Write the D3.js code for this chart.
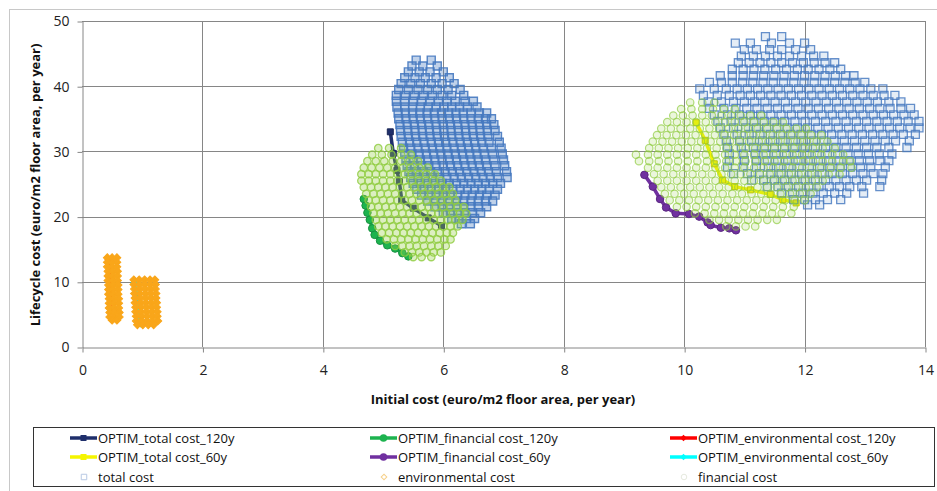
<!DOCTYPE html>
<html lang="en">
<head>
<meta charset="UTF-8" />
<title>Lifecycle cost vs initial cost</title>
<style>
  body { margin: 0; background: #fff; }
  svg { font-family: "Open Sans", sans-serif; }
</style>
</head>
<body>
<svg id="chart" width="937" height="491"></svg>
<script src="https://cdn.jsdelivr.net/npm/d3@7"></script>
<script>
// ---- values ----
const xTicks = [0, 2, 4, 6, 8, 10, 12, 14];
const yTicks = [0, 10, 20, 30, 40, 50];

// optimal fronts [initial cost, lifecycle cost]
const optimTotal120 = [[5.12,33.0],[5.17,29.7],[5.23,27.1],[5.27,25.4],[5.31,22.5],[5.5,21.3],[5.75,19.8],[5.97,18.6]];
const optimFinancial120 = [[4.68,22.7],[4.71,21.7],[4.74,20.6],[4.78,19.5],[4.82,18.2],[4.86,17.2],[4.95,16.3],[5.07,15.6],[5.2,15.1],[5.32,14.4],[5.42,13.9]];
const optimEnv120 = [[0.44,13.4],[0.46,12.6],[0.48,10.5],[0.5,8.0],[0.52,5.5]];
const optimTotal60 = [[10.2,34.4],[10.35,31.7],[10.5,28.1],[10.64,25.6],[10.84,24.6],[11.1,24.1],[11.43,23.4],[11.64,22.6],[11.86,22.1]];
const optimFinancial60 = [[9.34,26.4],[9.48,24.6],[9.6,22.7],[9.7,21.4],[9.86,20.5],[10.08,20.4],[10.25,20.0],[10.39,19.1],[10.44,18.7],[10.61,18.3],[10.75,18.2],[10.86,17.9]];
const optimEnv60 = [[0.87,9.9],[0.92,7.5],[0.95,5.0],[0.97,3.6]];

// scatter clouds, one row per lifecycle-cost level: [y, [x, x, ...]]
const totalCost120 = [
  [44.0, [5.55, 5.8]],
  [43.1, [5.48, 5.66, 5.9]],
  [42.2, [5.42, 5.6, 5.78, 6.0]],
  [41.3, [5.36, 5.53, 5.7, 5.88, 6.1]],
  [40.4, [5.3, 5.46, 5.62, 5.8, 5.98, 6.18]],
  [39.5, [5.26, 5.42, 5.58, 5.74, 5.9, 6.08, 6.28]],
  [38.6, [5.22, 5.37, 5.52, 5.67, 5.82, 5.98, 6.14, 6.34]],
  [37.7, [5.22, 5.36, 5.5, 5.64, 5.78, 5.92, 6.06, 6.2, 6.36, 6.5]],
  [36.8, [5.23, 5.36, 5.49, 5.62, 5.75, 5.88, 6.01, 6.14, 6.27, 6.4, 6.56]],
  [35.9, [5.25, 5.37, 5.49, 5.61, 5.73, 5.85, 5.97, 6.09, 6.21, 6.33, 6.46, 6.6, 6.72]],
  [35.0, [5.26, 5.38, 5.5, 5.62, 5.74, 5.86, 5.98, 6.1, 6.22, 6.34, 6.46, 6.58, 6.7, 6.8]],
  [34.1, [5.28, 5.4, 5.52, 5.64, 5.76, 5.88, 6.0, 6.12, 6.24, 6.36, 6.48, 6.6, 6.72, 6.84]],
  [33.2, [5.29, 5.41, 5.53, 5.65, 5.77, 5.89, 6.01, 6.13, 6.25, 6.37, 6.49, 6.61, 6.73, 6.86]],
  [32.3, [5.3, 5.42, 5.54, 5.66, 5.78, 5.9, 6.02, 6.14, 6.26, 6.38, 6.5, 6.62, 6.74, 6.9]],
  [31.4, [5.32, 5.44, 5.56, 5.68, 5.8, 5.92, 6.04, 6.16, 6.28, 6.4, 6.52, 6.64, 6.76, 6.93]],
  [30.5, [5.34, 5.46, 5.58, 5.7, 5.82, 5.94, 6.06, 6.18, 6.3, 6.42, 6.54, 6.66, 6.8, 6.96]],
  [29.6, [5.36, 5.48, 5.6, 5.72, 5.84, 5.96, 6.08, 6.2, 6.32, 6.44, 6.56, 6.68, 6.82, 6.98]],
  [28.7, [5.38, 5.5, 5.62, 5.74, 5.86, 5.98, 6.1, 6.22, 6.34, 6.46, 6.58, 6.7, 6.84, 7.0]],
  [27.8, [5.4, 5.52, 5.64, 5.76, 5.88, 6.0, 6.12, 6.24, 6.36, 6.48, 6.6, 6.72, 6.86, 7.02]],
  [26.9, [5.43, 5.55, 5.67, 5.79, 5.91, 6.03, 6.15, 6.27, 6.39, 6.51, 6.63, 6.75, 6.88, 7.05]],
  [26.0, [5.46, 5.58, 5.7, 5.82, 5.94, 6.06, 6.18, 6.3, 6.42, 6.54, 6.66, 6.78, 6.9, 7.06]],
  [25.1, [5.5, 5.62, 5.74, 5.86, 5.98, 6.1, 6.22, 6.34, 6.46, 6.58, 6.7, 6.82, 6.95]],
  [24.2, [5.56, 5.68, 5.8, 5.92, 6.04, 6.16, 6.28, 6.4, 6.52, 6.64, 6.76, 6.9]],
  [23.3, [5.64, 5.76, 5.88, 6.0, 6.12, 6.24, 6.36, 6.48, 6.6, 6.72, 6.86]],
  [22.4, [5.74, 5.86, 5.98, 6.1, 6.22, 6.34, 6.46, 6.58, 6.7, 6.82]],
  [21.5, [5.86, 5.98, 6.1, 6.22, 6.34, 6.46, 6.58, 6.72]],
  [20.6, [6.0, 6.12, 6.24, 6.36, 6.48, 6.62]],
  [19.7, [6.14, 6.26, 6.38, 6.52]],
  [18.9, [6.3, 6.45]]
];
const totalCost60 = [
  [47.6, [11.35, 11.62]],
  [46.6, [10.85, 11.1, 11.45, 11.75, 12.0]],
  [45.6, [11.0, 11.2, 11.42, 11.62, 11.85, 12.1]],
  [44.6, [10.95, 11.15, 11.35, 11.55, 11.75, 11.95, 12.15, 12.32]],
  [43.6, [10.9, 11.08, 11.26, 11.44, 11.62, 11.8, 11.98, 12.16, 12.34, 12.5]],
  [42.6, [10.8, 10.98, 11.16, 11.34, 11.52, 11.7, 11.88, 12.06, 12.24, 12.42, 12.6]],
  [41.6, [10.6, 10.8, 10.98, 11.15, 11.32, 11.49, 11.66, 11.83, 12.0, 12.17, 12.34, 12.51, 12.68, 12.82]],
  [40.6, [10.42, 10.62, 10.8, 10.97, 11.14, 11.31, 11.48, 11.65, 11.82, 11.99, 12.16, 12.33, 12.5, 12.67, 12.84, 13.0]],
  [39.6, [10.26, 10.5, 10.7, 10.88, 11.05, 11.22, 11.39, 11.56, 11.73, 11.9, 12.07, 12.24, 12.41, 12.58, 12.75, 12.92, 13.1, 13.3]],
  [38.6, [10.32, 10.55, 10.75, 10.93, 11.1, 11.27, 11.44, 11.61, 11.78, 11.95, 12.12, 12.29, 12.46, 12.63, 12.8, 12.97, 13.14, 13.32, 13.5]],
  [37.6, [10.4, 10.62, 10.82, 11.0, 11.17, 11.34, 11.51, 11.68, 11.85, 12.02, 12.19, 12.36, 12.53, 12.7, 12.87, 13.04, 13.21, 13.4, 13.6]],
  [36.6, [10.42, 10.66, 10.86, 11.04, 11.21, 11.38, 11.55, 11.72, 11.89, 12.06, 12.23, 12.4, 12.57, 12.74, 12.91, 13.08, 13.25, 13.42, 13.6, 13.76]],
  [35.6, [10.5, 10.72, 10.92, 11.1, 11.27, 11.44, 11.61, 11.78, 11.95, 12.12, 12.29, 12.46, 12.63, 12.8, 12.97, 13.14, 13.31, 13.48, 13.65, 13.82]],
  [34.6, [10.56, 10.78, 10.98, 11.16, 11.33, 11.5, 11.67, 11.84, 12.01, 12.18, 12.35, 12.52, 12.69, 12.86, 13.03, 13.2, 13.37, 13.54, 13.72, 13.9]],
  [33.6, [10.6, 10.82, 11.02, 11.2, 11.37, 11.54, 11.71, 11.88, 12.05, 12.22, 12.39, 12.56, 12.73, 12.9, 13.07, 13.24, 13.41, 13.58, 13.75, 13.9]],
  [32.6, [10.66, 10.88, 11.08, 11.26, 11.43, 11.6, 11.77, 11.94, 12.11, 12.28, 12.45, 12.62, 12.79, 12.96, 13.13, 13.3, 13.47, 13.64, 13.84]],
  [31.6, [10.7, 10.92, 11.12, 11.3, 11.47, 11.64, 11.81, 11.98, 12.15, 12.32, 12.49, 12.66, 12.83, 13.0, 13.17, 13.34, 13.51, 13.74]],
  [30.6, [10.72, 10.95, 11.15, 11.33, 11.5, 11.67, 11.84, 12.01, 12.18, 12.35, 12.52, 12.69, 12.86, 13.03, 13.2, 13.4, 13.7]],
  [29.6, [10.75, 10.98, 11.18, 11.36, 11.53, 11.7, 11.87, 12.04, 12.21, 12.38, 12.55, 12.72, 12.89, 13.06, 13.24, 13.45]],
  [28.6, [10.75, 11.0, 11.2, 11.38, 11.55, 11.72, 11.89, 12.06, 12.23, 12.4, 12.57, 12.74, 12.91, 13.08, 13.25, 13.4]],
  [27.6, [10.72, 10.98, 11.2, 11.4, 11.57, 11.74, 11.91, 12.08, 12.25, 12.42, 12.59, 12.76, 12.93, 13.1, 13.34]],
  [26.6, [10.82, 11.05, 11.25, 11.44, 11.61, 11.78, 11.95, 12.12, 12.29, 12.46, 12.63, 12.8, 12.97, 13.14, 13.3]],
  [25.6, [11.12, 11.32, 11.5, 11.67, 11.84, 12.01, 12.18, 12.35, 12.52, 12.69, 12.86, 13.03, 13.28]],
  [24.6, [11.38, 11.56, 11.73, 11.9, 12.07, 12.24, 12.41, 12.58, 12.75, 12.95, 13.25]],
  [23.6, [11.62, 11.8, 11.97, 12.14, 12.31, 12.5, 12.7, 12.98]],
  [22.6, [11.82, 12.0, 12.18, 12.38, 12.6]],
  [21.8, [12.05, 12.25]]
];
const financialCost120 = [
  [30.5, [4.92, 5.1, 5.3]],
  [29.5, [4.82, 4.98, 5.14, 5.3, 5.46]],
  [28.5, [4.74, 4.88, 5.02, 5.16, 5.3, 5.44, 5.58]],
  [27.5, [4.68, 4.81, 4.94, 5.07, 5.2, 5.33, 5.46, 5.6, 5.74]],
  [26.5, [4.64, 4.76, 4.88, 5.0, 5.12, 5.24, 5.36, 5.48, 5.6, 5.72, 5.86]],
  [25.5, [4.64, 4.76, 4.88, 5.0, 5.12, 5.24, 5.36, 5.48, 5.6, 5.72, 5.84, 5.96]],
  [24.5, [4.68, 4.8, 4.92, 5.04, 5.16, 5.28, 5.4, 5.52, 5.64, 5.76, 5.88, 6.0, 6.1]],
  [23.5, [4.72, 4.84, 4.96, 5.08, 5.2, 5.32, 5.44, 5.56, 5.68, 5.8, 5.92, 6.04, 6.16]],
  [22.5, [4.76, 4.88, 5.0, 5.12, 5.24, 5.36, 5.48, 5.6, 5.72, 5.84, 5.96, 6.08, 6.2]],
  [21.5, [4.8, 4.92, 5.04, 5.16, 5.28, 5.4, 5.52, 5.64, 5.76, 5.88, 6.0, 6.12, 6.24, 6.34]],
  [20.5, [4.84, 4.96, 5.08, 5.2, 5.32, 5.44, 5.56, 5.68, 5.8, 5.92, 6.04, 6.16, 6.28, 6.38]],
  [19.5, [4.88, 5.0, 5.12, 5.24, 5.36, 5.48, 5.6, 5.72, 5.84, 5.96, 6.08, 6.2, 6.32]],
  [18.5, [4.92, 5.04, 5.16, 5.28, 5.4, 5.52, 5.64, 5.76, 5.88, 6.0, 6.12, 6.24]],
  [17.5, [4.98, 5.1, 5.22, 5.34, 5.46, 5.58, 5.7, 5.82, 5.94, 6.06, 6.16]],
  [16.5, [5.06, 5.18, 5.3, 5.42, 5.54, 5.66, 5.78, 5.9, 6.02, 6.12]],
  [15.5, [5.2, 5.32, 5.44, 5.56, 5.68, 5.8, 5.92, 6.04]],
  [14.5, [5.36, 5.48, 5.6, 5.72, 5.84, 5.96]],
  [13.8, [5.5, 5.64, 5.8]]
];
const financialCost60 = [
  [37.5, [10.1, 10.3, 10.5]],
  [36.5, [9.95, 10.12, 10.3, 10.48, 10.66, 10.84]],
  [35.5, [9.82, 9.98, 10.14, 10.3, 10.46, 10.62, 10.78, 10.94, 11.1, 11.28]],
  [34.5, [9.72, 9.88, 10.04, 10.2, 10.36, 10.52, 10.68, 10.84, 11.0, 11.16, 11.32, 11.48, 11.64]],
  [33.5, [9.62, 9.78, 9.94, 10.1, 10.26, 10.42, 10.58, 10.74, 10.9, 11.06, 11.22, 11.38, 11.54, 11.7, 11.86, 12.02]],
  [32.5, [9.55, 9.71, 9.87, 10.03, 10.19, 10.35, 10.51, 10.67, 10.83, 10.99, 11.15, 11.31, 11.47, 11.63, 11.79, 11.95, 12.11, 12.28]],
  [31.5, [9.48, 9.64, 9.8, 9.96, 10.12, 10.28, 10.44, 10.6, 10.76, 10.92, 11.08, 11.24, 11.4, 11.56, 11.72, 11.88, 12.04, 12.2, 12.38]],
  [30.5, [9.42, 9.58, 9.74, 9.9, 10.06, 10.22, 10.38, 10.54, 10.7, 10.86, 11.02, 11.18, 11.34, 11.5, 11.66, 11.82, 11.98, 12.14, 12.3, 12.5]],
  [29.5, [9.2, 9.4, 9.56, 9.72, 9.88, 10.04, 10.2, 10.36, 10.52, 10.68, 10.84, 11.0, 11.16, 11.32, 11.48, 11.64, 11.8, 11.96, 12.12, 12.28, 12.46, 12.64]],
  [28.5, [9.25, 9.42, 9.58, 9.74, 9.9, 10.06, 10.22, 10.38, 10.54, 10.7, 10.86, 11.02, 11.18, 11.34, 11.5, 11.66, 11.82, 11.98, 12.14, 12.3, 12.46, 12.64, 12.76]],
  [27.5, [9.4, 9.56, 9.72, 9.88, 10.04, 10.2, 10.36, 10.52, 10.68, 10.84, 11.0, 11.16, 11.32, 11.48, 11.64, 11.8, 11.96, 12.12, 12.28, 12.44, 12.6, 12.78]],
  [26.5, [9.5, 9.66, 9.82, 9.98, 10.14, 10.3, 10.46, 10.62, 10.78, 10.94, 11.1, 11.26, 11.42, 11.58, 11.74, 11.9, 12.06, 12.22, 12.4, 12.58]],
  [25.5, [9.56, 9.72, 9.88, 10.04, 10.2, 10.36, 10.52, 10.68, 10.84, 11.0, 11.16, 11.32, 11.48, 11.64, 11.8, 11.96, 12.12, 12.3]],
  [24.5, [9.62, 9.78, 9.94, 10.1, 10.26, 10.42, 10.58, 10.74, 10.9, 11.06, 11.22, 11.38, 11.54, 11.7, 11.86, 12.02, 12.2]],
  [23.5, [9.68, 9.84, 10.0, 10.16, 10.32, 10.48, 10.64, 10.8, 10.96, 11.12, 11.28, 11.44, 11.6, 11.76, 11.92, 12.1]],
  [22.5, [9.76, 9.92, 10.08, 10.24, 10.4, 10.56, 10.72, 10.88, 11.04, 11.2, 11.36, 11.52, 11.68, 11.84, 12.0]],
  [21.5, [9.88, 10.04, 10.2, 10.36, 10.52, 10.68, 10.84, 11.0, 11.16, 11.32, 11.48, 11.64, 11.82]],
  [20.5, [10.18, 10.34, 10.5, 10.66, 10.82, 10.98, 11.14, 11.3, 11.46, 11.62, 11.78]],
  [19.5, [10.42, 10.58, 10.74, 10.9, 11.06, 11.22, 11.38, 11.54]],
  [18.5, [10.7, 10.86, 11.02, 11.18]]
];
const envCost120 = [
  [13.7, [0.42, 0.5, 0.58]],
  [13.0, [0.42, 0.5, 0.58]],
  [12.3, [0.42, 0.5, 0.58]],
  [11.6, [0.43, 0.51, 0.59]],
  [10.9, [0.43, 0.51, 0.59]],
  [10.2, [0.43, 0.51, 0.59]],
  [9.5, [0.44, 0.52, 0.6]],
  [8.8, [0.44, 0.52, 0.6]],
  [8.1, [0.44, 0.52, 0.6]],
  [7.4, [0.45, 0.53, 0.61]],
  [6.7, [0.45, 0.53, 0.61]],
  [6.0, [0.45, 0.53, 0.61]],
  [5.3, [0.46, 0.54, 0.62]],
  [4.6, [0.46, 0.54, 0.62]],
  [4.1, [0.5, 0.58]]
];
const envCost60 = [
  [10.3, [0.86, 0.95, 1.04, 1.13, 1.21]],
  [9.6, [0.86, 0.95, 1.04, 1.13, 1.22]],
  [8.9, [0.87, 0.96, 1.05, 1.14, 1.22]],
  [8.2, [0.87, 0.96, 1.05, 1.14, 1.23]],
  [7.5, [0.88, 0.97, 1.06, 1.15, 1.23]],
  [6.8, [0.88, 0.97, 1.06, 1.15, 1.24]],
  [6.1, [0.89, 0.98, 1.07, 1.16, 1.24]],
  [5.4, [0.89, 0.98, 1.07, 1.16, 1.25]],
  [4.7, [0.9, 0.99, 1.08, 1.17, 1.25]],
  [4.0, [0.9, 0.99, 1.08, 1.17, 1.26]],
  [3.4, [0.92, 1.01, 1.1, 1.19]]
];

const lineSeries = [
  { name: "OPTIM_total cost_120y", data: optimTotal120, color: "#1f2f6b", marker: "square" },
  { name: "OPTIM_financial cost_120y", data: optimFinancial120, color: "#1db34f", marker: "circle" },
  { name: "OPTIM_environmental cost_120y", data: optimEnv120, color: "#ff0000", marker: "diamond" },
  { name: "OPTIM_total cost_60y", data: optimTotal60, color: "#f5f500", marker: "square" },
  { name: "OPTIM_financial cost_60y", data: optimFinancial60, color: "#7030a0", marker: "circle" },
  { name: "OPTIM_environmental cost_60y", data: optimEnv60, color: "#00ffff", marker: "diamond" }
];
const cloudNames = ["total cost", "environmental cost", "financial cost"];

const toPoints = rows => rows.flatMap(([yv, xs]) => xs.map(xv => [xv, yv]));

// ---- chart ----
const svg = d3.select("#chart");
const x = d3.scaleLinear().domain([0, 14]).range([82, 925]);
const y = d3.scaleLinear().domain([0, 50]).range([347, 21]);
const gridColor = "#868686";

// outer chart border
svg.append("rect").attr("x", 9.5).attr("y", 9.5).attr("width", 940).attr("height", 500)
  .attr("fill", "none").attr("stroke", "#c8c8c8");

// gridlines
svg.append("g").selectAll("line").data(xTicks.slice(1)).join("line")
  .attr("x1", d => Math.round(x(d)) + 0.5).attr("x2", d => Math.round(x(d)) + 0.5)
  .attr("y1", y(50)).attr("y2", y(0)).attr("stroke", gridColor);
svg.append("g").selectAll("line").data(yTicks.slice(1)).join("line")
  .attr("x1", x(0)).attr("x2", x(14))
  .attr("y1", d => Math.round(y(d)) + 0.5).attr("y2", d => Math.round(y(d)) + 0.5)
  .attr("stroke", gridColor);

// axes
const xAxis = svg.append("g").attr("transform", "translate(0.5," + (Math.round(y(0)) + 0.5) + ")")
  .call(d3.axisBottom(x).tickValues(xTicks).tickSize(5).tickSizeOuter(0).tickPadding(13));
const yAxis = svg.append("g").attr("transform", "translate(" + (Math.round(x(0)) + 0.5) + ",0.5)")
  .call(d3.axisLeft(y).tickValues(yTicks).tickSize(5).tickSizeOuter(0).tickPadding(8));
[xAxis, yAxis].forEach(a => {
  a.selectAll("path, line").attr("stroke", gridColor);
  a.selectAll("text").attr("fill", "#222").style("font-size", "14px")
    .style("font-family", "'Open Sans', sans-serif");
});

svg.append("text").attr("x", 503).attr("y", 404).attr("text-anchor", "middle")
  .style("font-weight", "bold").style("font-size", "13px").attr("fill", "#111")
  .text("Initial cost (euro/m2 floor area, per year)");
svg.append("text").attr("transform", "translate(40,185) rotate(-90)").attr("text-anchor", "middle")
  .style("font-weight", "bold").style("font-size", "13px").attr("fill", "#111")
  .text("Lifecycle cost (euro/m2 floor area, per year)");

// symbols
const sym = {
  square: d3.symbol(d3.symbolSquare, 36)(),
  circle: d3.symbol(d3.symbolCircle, 45)(),
  diamond: d3.symbol(d3.symbolSquare, 22)()
};
const markerRot = m => (m === "diamond" ? " rotate(45)" : "");

// optimum lines
const line = d3.line().x(d => x(d[0])).y(d => y(d[1]));
lineSeries.forEach(s => {
  const g = svg.append("g");
  g.append("path").datum(s.data).attr("d", line).attr("fill", "none")
    .attr("stroke", s.color).attr("stroke-width", 3.5).attr("stroke-linejoin", "round");
  g.selectAll("path.m").data(s.data).join("path").attr("class", "m")
    .attr("d", sym[s.marker])
    .attr("transform", d => "translate(" + x(d[0]) + "," + y(d[1]) + ")" + markerRot(s.marker))
    .attr("fill", s.color).attr("stroke", d3.color(s.color).darker(0.6));
});

// clouds
const drawCloud = (rows, shape, opts) => {
  svg.append("g").selectAll("path").data(toPoints(rows)).join("path")
    .attr("d", shape)
    .attr("transform", d => "translate(" + x(d[0]) + "," + y(d[1]) + ")" + (opts.rot || ""))
    .attr("fill", opts.fill || "none").attr("fill-opacity", opts.fillOpacity || 1)
    .attr("stroke", opts.stroke).attr("stroke-opacity", opts.opacity).attr("stroke-width", opts.width || 1);
};
const squareShape = d3.symbol(d3.symbolSquare, 64)();
const circleShape = d3.symbol(d3.symbolCircle, 44)();
const diamondShape = d3.symbol(d3.symbolSquare, 30)();
drawCloud(totalCost120, squareShape, { stroke: "#4679c0", opacity: 0.9, width: 1.4, fill: "#4a7ec2", fillOpacity: 0.35 });
drawCloud(totalCost60, squareShape, { stroke: "#4679c0", opacity: 0.82, width: 1.3, fill: "#4a7ec2", fillOpacity: 0.14 });
drawCloud(envCost120, diamondShape, { stroke: "#f9a61a", fill: "#f9a61a", opacity: 1, rot: " rotate(45)" });
drawCloud(envCost60, diamondShape, { stroke: "#f9a61a", fill: "#f9a61a", opacity: 1, rot: " rotate(45)" });
drawCloud(financialCost120, circleShape, { stroke: "#8fcc3f", opacity: 0.8, width: 1.3, fill: "#9ad24e", fillOpacity: 0.35 });
drawCloud(financialCost60, circleShape, { stroke: "#8fcc3f", opacity: 0.68, width: 1.2, fill: "#9ad24e", fillOpacity: 0.2 });

// legend
const legend = svg.append("g");
legend.append("rect").attr("x", 33.5).attr("y", 427.5).attr("width", 901).attr("height", 59)
  .attr("fill", "#fff").attr("stroke", "#333");
const colX = [70, 370, 670];
const rowY = [438, 457, 477];
lineSeries.forEach((s, i) => {
  const cx = colX[i % 3], cy = rowY[Math.floor(i / 3)];
  legend.append("line").attr("x1", cx).attr("x2", cx + 27).attr("y1", cy).attr("y2", cy)
    .attr("stroke", s.color).attr("stroke-width", 3.5);
  legend.append("path").attr("d", sym[s.marker])
    .attr("transform", "translate(" + (cx + 13.5) + "," + cy + ")" + markerRot(s.marker))
    .attr("fill", s.color);
  legend.append("text").attr("x", cx + 28).attr("y", cy + 4.5).style("font-size", "13px")
    .attr("fill", "#111").text(s.name);
});
const cloudLegend = [
  { shape: d3.symbol(d3.symbolSquare, 30)(), stroke: "#b8c9e4", rot: "" },
  { shape: d3.symbol(d3.symbolSquare, 16)(), stroke: "#f6d08a", rot: " rotate(45)" },
  { shape: d3.symbol(d3.symbolCircle, 24)(), stroke: "#e6eadf", rot: "" }
];
cloudNames.forEach((n, i) => {
  const cx = colX[i], cy = rowY[2];
  legend.append("path").attr("d", cloudLegend[i].shape)
    .attr("transform", "translate(" + (cx + 14) + "," + cy + ")" + cloudLegend[i].rot)
    .attr("fill", "none").attr("stroke", cloudLegend[i].stroke);
  legend.append("text").attr("x", cx + 28).attr("y", cy + 4.5).style("font-size", "13px")
    .attr("fill", "#111").text(n);
});
</script>
</body>
</html>
